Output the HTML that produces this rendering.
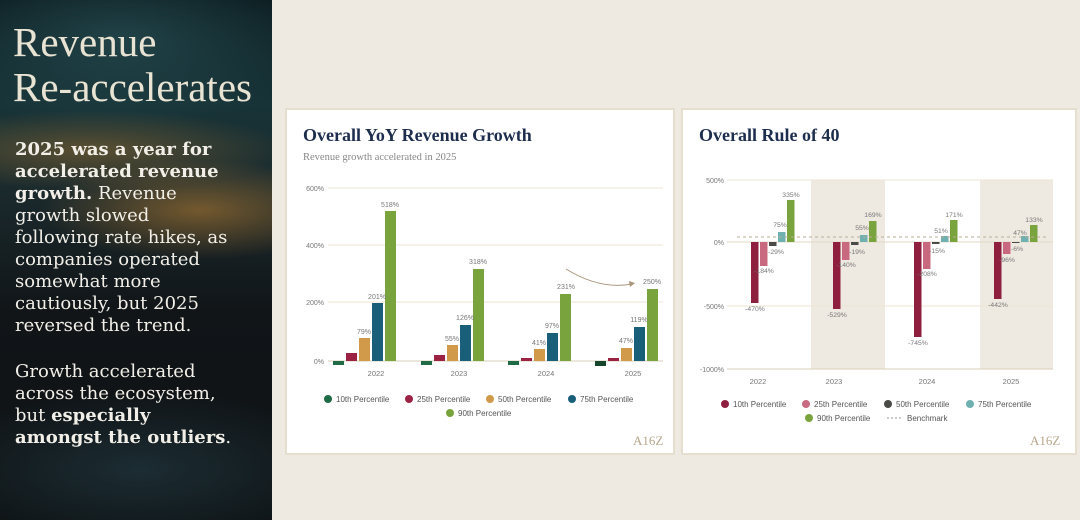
<!DOCTYPE html>
<html><head><meta charset="utf-8"><style>
*{margin:0;padding:0;box-sizing:border-box}
body{width:1080px;height:520px;overflow:hidden;background:#eeeae2;font-family:"Liberation Sans",sans-serif;position:relative}
#left{position:absolute;left:0;top:0;width:272px;height:520px;
background:
radial-gradient(ellipse 160px 50px at 200px 210px,rgba(190,130,50,.55),transparent),
radial-gradient(ellipse 200px 40px at 90px 150px,rgba(170,120,50,.45),transparent),
radial-gradient(ellipse 200px 90px at 120px 40px,rgba(40,80,85,.7),transparent),
radial-gradient(ellipse 220px 80px at 140px 470px,rgba(40,70,80,.5),transparent),
linear-gradient(180deg,#0b1a1e 0%,#173337 20%,#1b2b2e 35%,#111518 60%,#0e1214 100%)}
#left h1{position:absolute;left:13px;top:20px;font-family:"Liberation Serif",serif;font-weight:normal;font-size:41px;line-height:45px;color:#e9e3d3;white-space:nowrap}
#left p{position:absolute;left:15px;font-family:"DejaVu Serif",serif;font-size:18px;line-height:22px;color:#f2efe8;white-space:nowrap}
#left b{font-weight:bold}
.card{position:absolute;top:108px;height:347px;background:#fff;border:2px solid #e6dfcf}
.t{position:absolute;font-family:"Liberation Serif",serif;font-weight:bold;color:#1d2d4d;font-size:18px}
</style></head><body>
<div id="left">
<h1>Revenue<br>Re-accelerates</h1>
<p style="top:139px"><b>2025 was a year for<br>accelerated revenue<br>growth.</b> Revenue<br>growth slowed<br>following rate hikes, as<br>companies operated<br>somewhat more<br>cautiously, but 2025<br>reversed the trend.</p>
<p style="top:361px">Growth accelerated<br>across the ecosystem,<br>but <b>especially</b><br><b>amongst the outliers</b>.</p>
</div>
<div class="card" style="left:285px;width:390px"></div>
<div class="card" style="left:681px;width:396px"></div>
<div class="t" style="left:303px;top:125px">Overall YoY Revenue Growth</div>
<div style="position:absolute;left:303px;top:152px;font-family:'Liberation Serif',serif;font-size:10.5px;color:#888">Revenue growth accelerated in 2025</div>
<div class="t" style="left:699px;top:125px">Overall Rule of 40</div>
<svg width="1080" height="520" style="position:absolute;left:0;top:0" font-family="Liberation Sans,sans-serif" font-size="7" fill="#777">
<g stroke="#ece5d5" stroke-width="1">
<line x1="328" y1="188" x2="663" y2="188"/><line x1="328" y1="245" x2="663" y2="245"/><line x1="328" y1="302" x2="663" y2="302"/>
</g>
<line x1="328" y1="361" x2="663" y2="361" stroke="#d9cfb9"/>
<g text-anchor="end"><text x="324" y="191">600%</text><text x="324" y="248">400%</text><text x="324" y="305">200%</text><text x="324" y="364">0%</text></g>
<g text-anchor="middle" font-size="7.5"><text x="376" y="376">2022</text><text x="459" y="376">2023</text><text x="546" y="376">2024</text><text x="633" y="376">2025</text></g>
<g>
<rect x="333" y="361" width="11" height="4" fill="#1e6b45"/><rect x="346" y="353" width="11" height="8" fill="#9b2242"/><rect x="359" y="338" width="11" height="23" fill="#d09a4a"/><rect x="372" y="303" width="11" height="58" fill="#1a5f7a"/><rect x="385" y="211" width="11" height="150" fill="#79a33d"/>
<rect x="421" y="361" width="11" height="4" fill="#1e6b45"/><rect x="434" y="355" width="11" height="6" fill="#9b2242"/><rect x="447" y="345" width="11" height="16" fill="#d09a4a"/><rect x="460" y="325" width="11" height="36" fill="#1a5f7a"/><rect x="473" y="269" width="11" height="92" fill="#79a33d"/>
<rect x="508" y="361" width="11" height="4" fill="#1e6b45"/><rect x="521" y="358" width="11" height="3" fill="#9b2242"/><rect x="534" y="349" width="11" height="12" fill="#d09a4a"/><rect x="547" y="333" width="11" height="28" fill="#1a5f7a"/><rect x="560" y="294" width="11" height="67" fill="#79a33d"/>
<rect x="595" y="361" width="11" height="5" fill="#17452c"/><rect x="608" y="358" width="11" height="3" fill="#9b2242"/><rect x="621" y="348" width="11" height="13" fill="#d09a4a"/><rect x="634" y="327" width="11" height="34" fill="#1a5f7a"/><rect x="647" y="289" width="11" height="72" fill="#79a33d"/>
</g>
<g text-anchor="middle"><text x="390" y="207">518%</text><text x="377" y="299">201%</text><text x="364" y="334">79%</text>
<text x="478" y="264">318%</text><text x="465" y="320">126%</text><text x="452" y="341">55%</text>
<text x="566" y="289">231%</text><text x="552" y="328">97%</text><text x="539" y="345">41%</text>
<text x="652" y="284">250%</text><text x="639" y="322">119%</text><text x="626" y="343">47%</text></g>
<path d="M566 269 Q600 290 632 284" stroke="#a8957c" fill="none" stroke-width="1"/><path d="M629 281 L635 283 L630 287Z" fill="#a8957c"/>
<g font-size="8" fill="#555">
<circle cx="328" cy="399" r="4" fill="#1e6b45"/><text x="336" y="402">10th Percentile</text>
<circle cx="409" cy="399" r="4" fill="#9b2242"/><text x="417" y="402">25th Percentile</text>
<circle cx="490" cy="399" r="4" fill="#d09a4a"/><text x="498" y="402">50th Percentile</text>
<circle cx="572" cy="399" r="4" fill="#1a5f7a"/><text x="580" y="402">75th Percentile</text>
<circle cx="450" cy="413" r="4" fill="#79a33d"/><text x="458" y="416">90th Percentile</text>
</g>
<text x="633" y="445" font-family="Liberation Serif,serif" font-size="13" fill="#b7a78c">A16Z</text>
<rect x="811" y="180" width="74" height="189" fill="#efeae1"/><rect x="980" y="180" width="73" height="189" fill="#efeae1"/>
<g stroke="#ece5d5"><line x1="727" y1="180" x2="1053" y2="180"/><line x1="727" y1="306" x2="1053" y2="306"/></g>
<line x1="727" y1="242" x2="1053" y2="242" stroke="#e2d9c6"/>
<line x1="727" y1="369" x2="1053" y2="369" stroke="#d9cfb9"/>
<g text-anchor="end"><text x="724" y="183">500%</text><text x="724" y="245">0%</text><text x="724" y="309">-500%</text><text x="724" y="372">-1000%</text></g>
<g text-anchor="middle" font-size="7.5"><text x="758" y="384">2022</text><text x="834" y="384">2023</text><text x="927" y="384">2024</text><text x="1011" y="384">2025</text></g>
<g>
<rect x="751" y="242" width="7.5" height="61" fill="#8e1f3e"/><rect x="760" y="242" width="7.5" height="24" fill="#c9697f"/><rect x="769" y="242" width="7.5" height="4" fill="#4a4a48"/><rect x="778" y="232" width="7.5" height="10" fill="#6fb0b0"/><rect x="787" y="200" width="7.5" height="42" fill="#79a33d"/>
<rect x="833" y="242" width="7.5" height="67" fill="#8e1f3e"/><rect x="842" y="242" width="7.5" height="18" fill="#c9697f"/><rect x="851" y="242" width="7.5" height="3" fill="#4a4a48"/><rect x="860" y="235" width="7.5" height="7" fill="#6fb0b0"/><rect x="869" y="221" width="7.5" height="21" fill="#79a33d"/>
<rect x="914" y="242" width="7.5" height="95" fill="#8e1f3e"/><rect x="923" y="242" width="7.5" height="27" fill="#c9697f"/><rect x="932" y="242" width="7.5" height="2" fill="#4a4a48"/><rect x="941" y="236" width="7.5" height="6" fill="#6fb0b0"/><rect x="950" y="220" width="7.5" height="22" fill="#79a33d"/>
<rect x="994" y="242" width="7.5" height="57" fill="#8e1f3e"/><rect x="1003" y="242" width="7.5" height="12" fill="#c9697f"/><rect x="1012" y="242" width="7.5" height="1" fill="#4a4a48"/><rect x="1021" y="236" width="7.5" height="6" fill="#6fb0b0"/><rect x="1030" y="225" width="7.5" height="17" fill="#79a33d"/>
</g>
<line x1="737" y1="237" x2="1048" y2="237" stroke="#b9ad97" stroke-dasharray="3,3"/>
<g text-anchor="middle" font-size="6.8">
<text x="755" y="311">-470%</text><text x="764" y="273">-184%</text><text x="776" y="254">-29%</text><text x="780" y="227">75%</text><text x="791" y="197">335%</text>
<text x="837" y="317">-529%</text><text x="846" y="267">-140%</text><text x="857" y="254">-19%</text><text x="862" y="230">55%</text><text x="873" y="217">169%</text>
<text x="918" y="345">-745%</text><text x="927" y="276">-208%</text><text x="937" y="253">-15%</text><text x="941" y="233">51%</text><text x="954" y="217">171%</text>
<text x="998" y="307">-442%</text><text x="1007" y="262">-96%</text><text x="1017" y="251">-6%</text><text x="1020" y="235">47%</text><text x="1034" y="222">133%</text>
</g>
<g font-size="8" fill="#555">
<circle cx="725" cy="404" r="4" fill="#8e1f3e"/><text x="733" y="407">10th Percentile</text>
<circle cx="806" cy="404" r="4" fill="#c9697f"/><text x="814" y="407">25th Percentile</text>
<circle cx="888" cy="404" r="4" fill="#4a4a48"/><text x="896" y="407">50th Percentile</text>
<circle cx="970" cy="404" r="4" fill="#6fb0b0"/><text x="978" y="407">75th Percentile</text>
<circle cx="809" cy="418" r="4" fill="#79a33d"/><text x="817" y="421">90th Percentile</text>
<line x1="887" y1="418" x2="902" y2="418" stroke="#999" stroke-dasharray="2,2"/><text x="907" y="421">Benchmark</text>
</g>
<text x="1030" y="445" font-family="Liberation Serif,serif" font-size="13" fill="#b7a78c">A16Z</text>
</svg>
</body></html>
